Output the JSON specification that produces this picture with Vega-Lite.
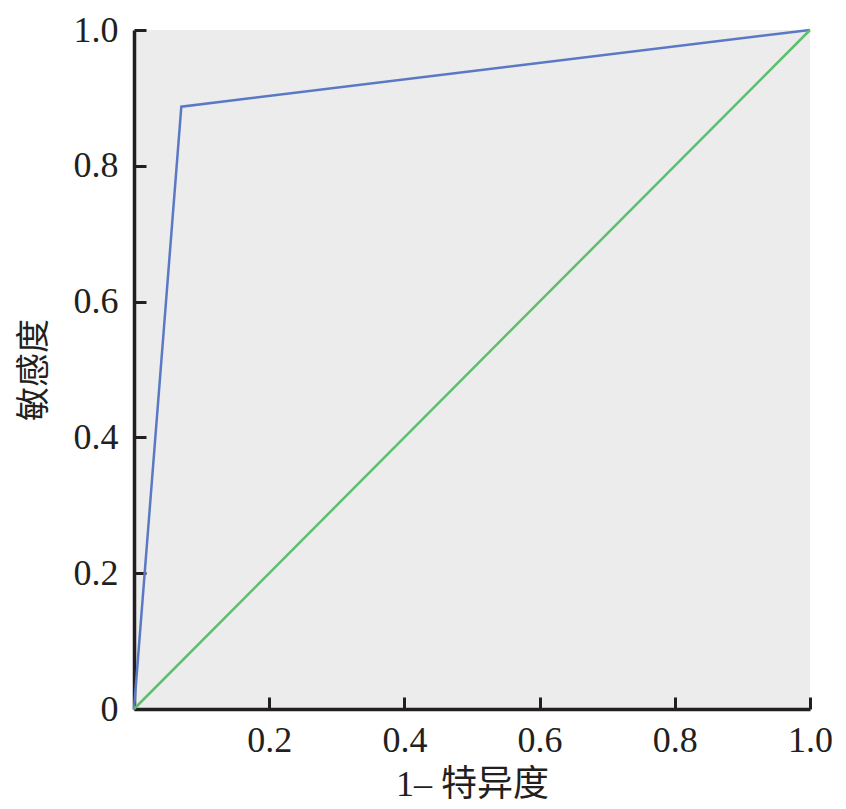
{
  "$schema": "https://vega.github.io/schema/vega-lite/v6.json",
  "width": 676,
  "height": 679,
  "autosize": {"type": "none"},
  "padding": {"left": 134, "top": 30, "right": 36, "bottom": 100},
  "background": "white",
  "config": {
    "view": {"fill": "#ececec", "stroke": null},
    "font": "Liberation Serif, Noto Sans CJK SC"
  },
  "data": {
    "values": [
      {"series": "roc", "order": 0, "fpr": 0, "tpr": 0},
      {"series": "roc", "order": 1, "fpr": 0.07, "tpr": 0.887},
      {"series": "roc", "order": 2, "fpr": 1, "tpr": 1},
      {"series": "ref", "order": 0, "fpr": 0, "tpr": 0},
      {"series": "ref", "order": 1, "fpr": 1, "tpr": 1}
    ]
  },
  "mark": {"type": "line", "strokeWidth": 2.5},
  "encoding": {
    "x": {
      "field": "fpr", "type": "quantitative",
      "scale": {"domain": [0, 1], "nice": false},
      "axis": {
        "title": "1– 特异度", "titleFontSize": 36, "titleFontWeight": "normal", "titleColor": "#231f20", "titlePadding": 9,
        "values": [0.2, 0.4, 0.6, 0.8, 1.0], "format": ".1f",
        "labelFontSize": 36, "labelColor": "#231f20", "labelPadding": 26, "labelFlush": false,
        "grid": false, "domainColor": "#231f20", "domainWidth": 3.5, "tickColor": "#231f20", "tickWidth": 3, "tickSize": -12
      }
    },
    "y": {
      "field": "tpr", "type": "quantitative",
      "scale": {"domain": [0, 1], "nice": false},
      "axis": {
        "title": "敏感度", "titleFontSize": 34, "titleFontWeight": "normal", "titleColor": "#231f20", "titlePadding": 22,
        "values": [0, 0.2, 0.4, 0.6, 0.8, 1.0],
        "labelExpr": "datum.value === 0 ? '0' : format(datum.value, '.1f')",
        "labelFontSize": 36, "labelColor": "#231f20", "labelPadding": 28, "labelFlush": false,
        "grid": false, "domainColor": "#231f20", "domainWidth": 3.5, "tickColor": "#231f20", "tickWidth": 3, "tickSize": -12
      }
    },
    "color": {
      "field": "series", "type": "nominal",
      "scale": {"domain": ["roc", "ref"], "range": ["#5b78c4", "#5cbf6e"]},
      "legend": null
    },
    "order": {"field": "order", "type": "quantitative"}
  }
}
